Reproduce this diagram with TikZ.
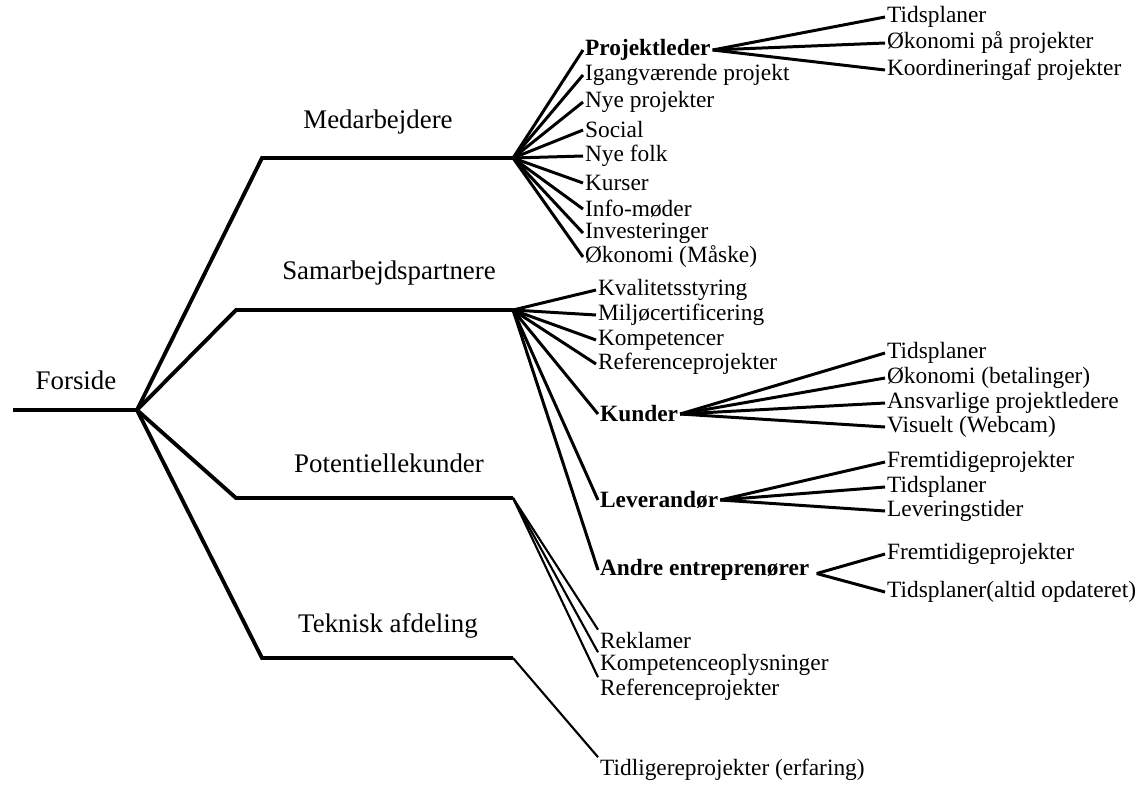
\documentclass[tikz,border=0pt]{standalone}
\usepackage{fontspec}
\setmainfont{Liberation Serif}
\begin{document}
\begin{tikzpicture}[x=0.02cm,y=-0.02cm,
  mainline/.style={line width=2.2pt,line join=miter},
  fanline/.style={line width=1.7pt},
  thinline/.style={line width=1.2pt},
  lbl/.style={font=\fontsize{15.3}{17}\selectfont,inner sep=0pt},
  leaf/.style={font=\fontsize{13.3}{15}\selectfont,anchor=west,inner sep=1pt},
  bleaf/.style={font=\fontsize{13.3}{15}\selectfont\bfseries,anchor=west,inner sep=1pt}]
\useasboundingbox (0,0) rectangle (1141,785);
% root
\coordinate (S) at (13,410);
\coordinate (R) at (137,410);
\node[lbl] (forside) at (76,380) {Forside};
\draw[mainline] (S) -- (R);
% main branches
\coordinate (b1) at (262,158); \coordinate (J1) at (513,158);
\coordinate (b2) at (236,310); \coordinate (J2) at (513,310);
\coordinate (b3) at (236,498); \coordinate (J3) at (513,498);
\coordinate (b4) at (262,658); \coordinate (J4) at (513,658);
\draw[mainline] (R) -- (b1) -- (J1);
\draw[mainline] (R) -- (b2) -- (J2);
\draw[mainline] (R) -- (b3) -- (J3);
\draw[mainline] (R) -- (b4) -- (J4);
\node[lbl] (medarb) at (378,122) {Medarbejdere};
\node[lbl] (samarb) at (389,273) {Samarbejdspartnere};
\node[lbl] (potent) at (389,463) {Potentiellekunder};
\node[lbl] (teknisk) at (388,626) {Teknisk afdeling};
% Medarbejdere items
\node[bleaf] (m1) at (583,50) {Projektleder};
\node[leaf] (m2) at (583,75) {Igangværende projekt};
\node[leaf] (m3) at (583,102) {Nye projekter};
\node[leaf] (m4) at (583,130) {Social};
\node[leaf] (m5) at (583,156) {Nye folk};
\node[leaf] (m6) at (583,183) {Kurser};
\node[leaf] (m7) at (583,209) {Info-møder};
\node[leaf] (m8) at (583,233) {Investeringer};
\node[leaf] (m9) at (583,257) {Økonomi (Måske)};
\foreach \i in {1,...,9} \draw[fanline] (J1) -- (m\i.west);
% Projektleder sub
\node[leaf] (p1) at (885,17) {Tidsplaner};
\node[leaf] (p2) at (885,43) {Økonomi på projekter};
\node[leaf] (p3) at (885,70) {Koordineringaf projekter};
\foreach \i in {1,2,3} \draw[fanline] (m1.east) -- (p\i.west);
% Samarbejdspartnere items
\node[leaf] (s1) at (596,290) {Kvalitetsstyring};
\node[leaf] (s2) at (596,315) {Miljøcertificering};
\node[leaf] (s3) at (596,340) {Kompetencer};
\node[leaf] (s4) at (596,364) {Referenceprojekter};
\node[bleaf] (s5) at (598,414) {Kunder};
\node[bleaf] (s6) at (598,500) {Leverandør};
\node[bleaf] (s7) at (598,570) {Andre entreprenører};
\foreach \i in {1,...,7} \draw[fanline] (J2) -- (s\i.west);
% Kunder sub
\node[leaf] (k1) at (885,353) {Tidsplaner};
\node[leaf] (k2) at (885,378) {Økonomi (betalinger)};
\node[leaf] (k3) at (885,403) {Ansvarlige projektledere};
\node[leaf] (k4) at (885,427) {Visuelt (Webcam)};
\foreach \i in {1,...,4} \draw[fanline] (s5.east) -- (k\i.west);
% Leverandør sub
\node[leaf] (l1) at (885,462) {Fremtidigeprojekter};
\node[leaf] (l2) at (885,487) {Tidsplaner};
\node[leaf] (l3) at (885,511) {Leveringstider};
\foreach \i in {1,2,3} \draw[fanline] (s6.east) -- (l\i.west);
% Andre entreprenører sub
\node[leaf] (a1) at (885,554) {Fremtidigeprojekter};
\node[leaf] (a2) at (885,592) {Tidsplaner(altid opdateret)};
\coordinate (aJ) at ([xshift=3pt,yshift=-2pt]s7.east);
\foreach \i in {1,2} \draw[fanline] (aJ) -- (a\i.west);
% Potentielle kunder items
\node[leaf] (q1) at (598,640) {Reklamer};
\node[leaf] (q2) at (598,665) {Kompetenceoplysninger};
\node[leaf] (q3) at (598,690) {Referenceprojekter};
\foreach \i in {1,2,3} \draw[thinline] (J3) -- (q\i.north west);
% Teknisk
\node[leaf] (t1) at (598,770) {Tidligereprojekter (erfaring)};
\draw[thinline] (J4) -- (t1.north west);
\end{tikzpicture}
\end{document}
